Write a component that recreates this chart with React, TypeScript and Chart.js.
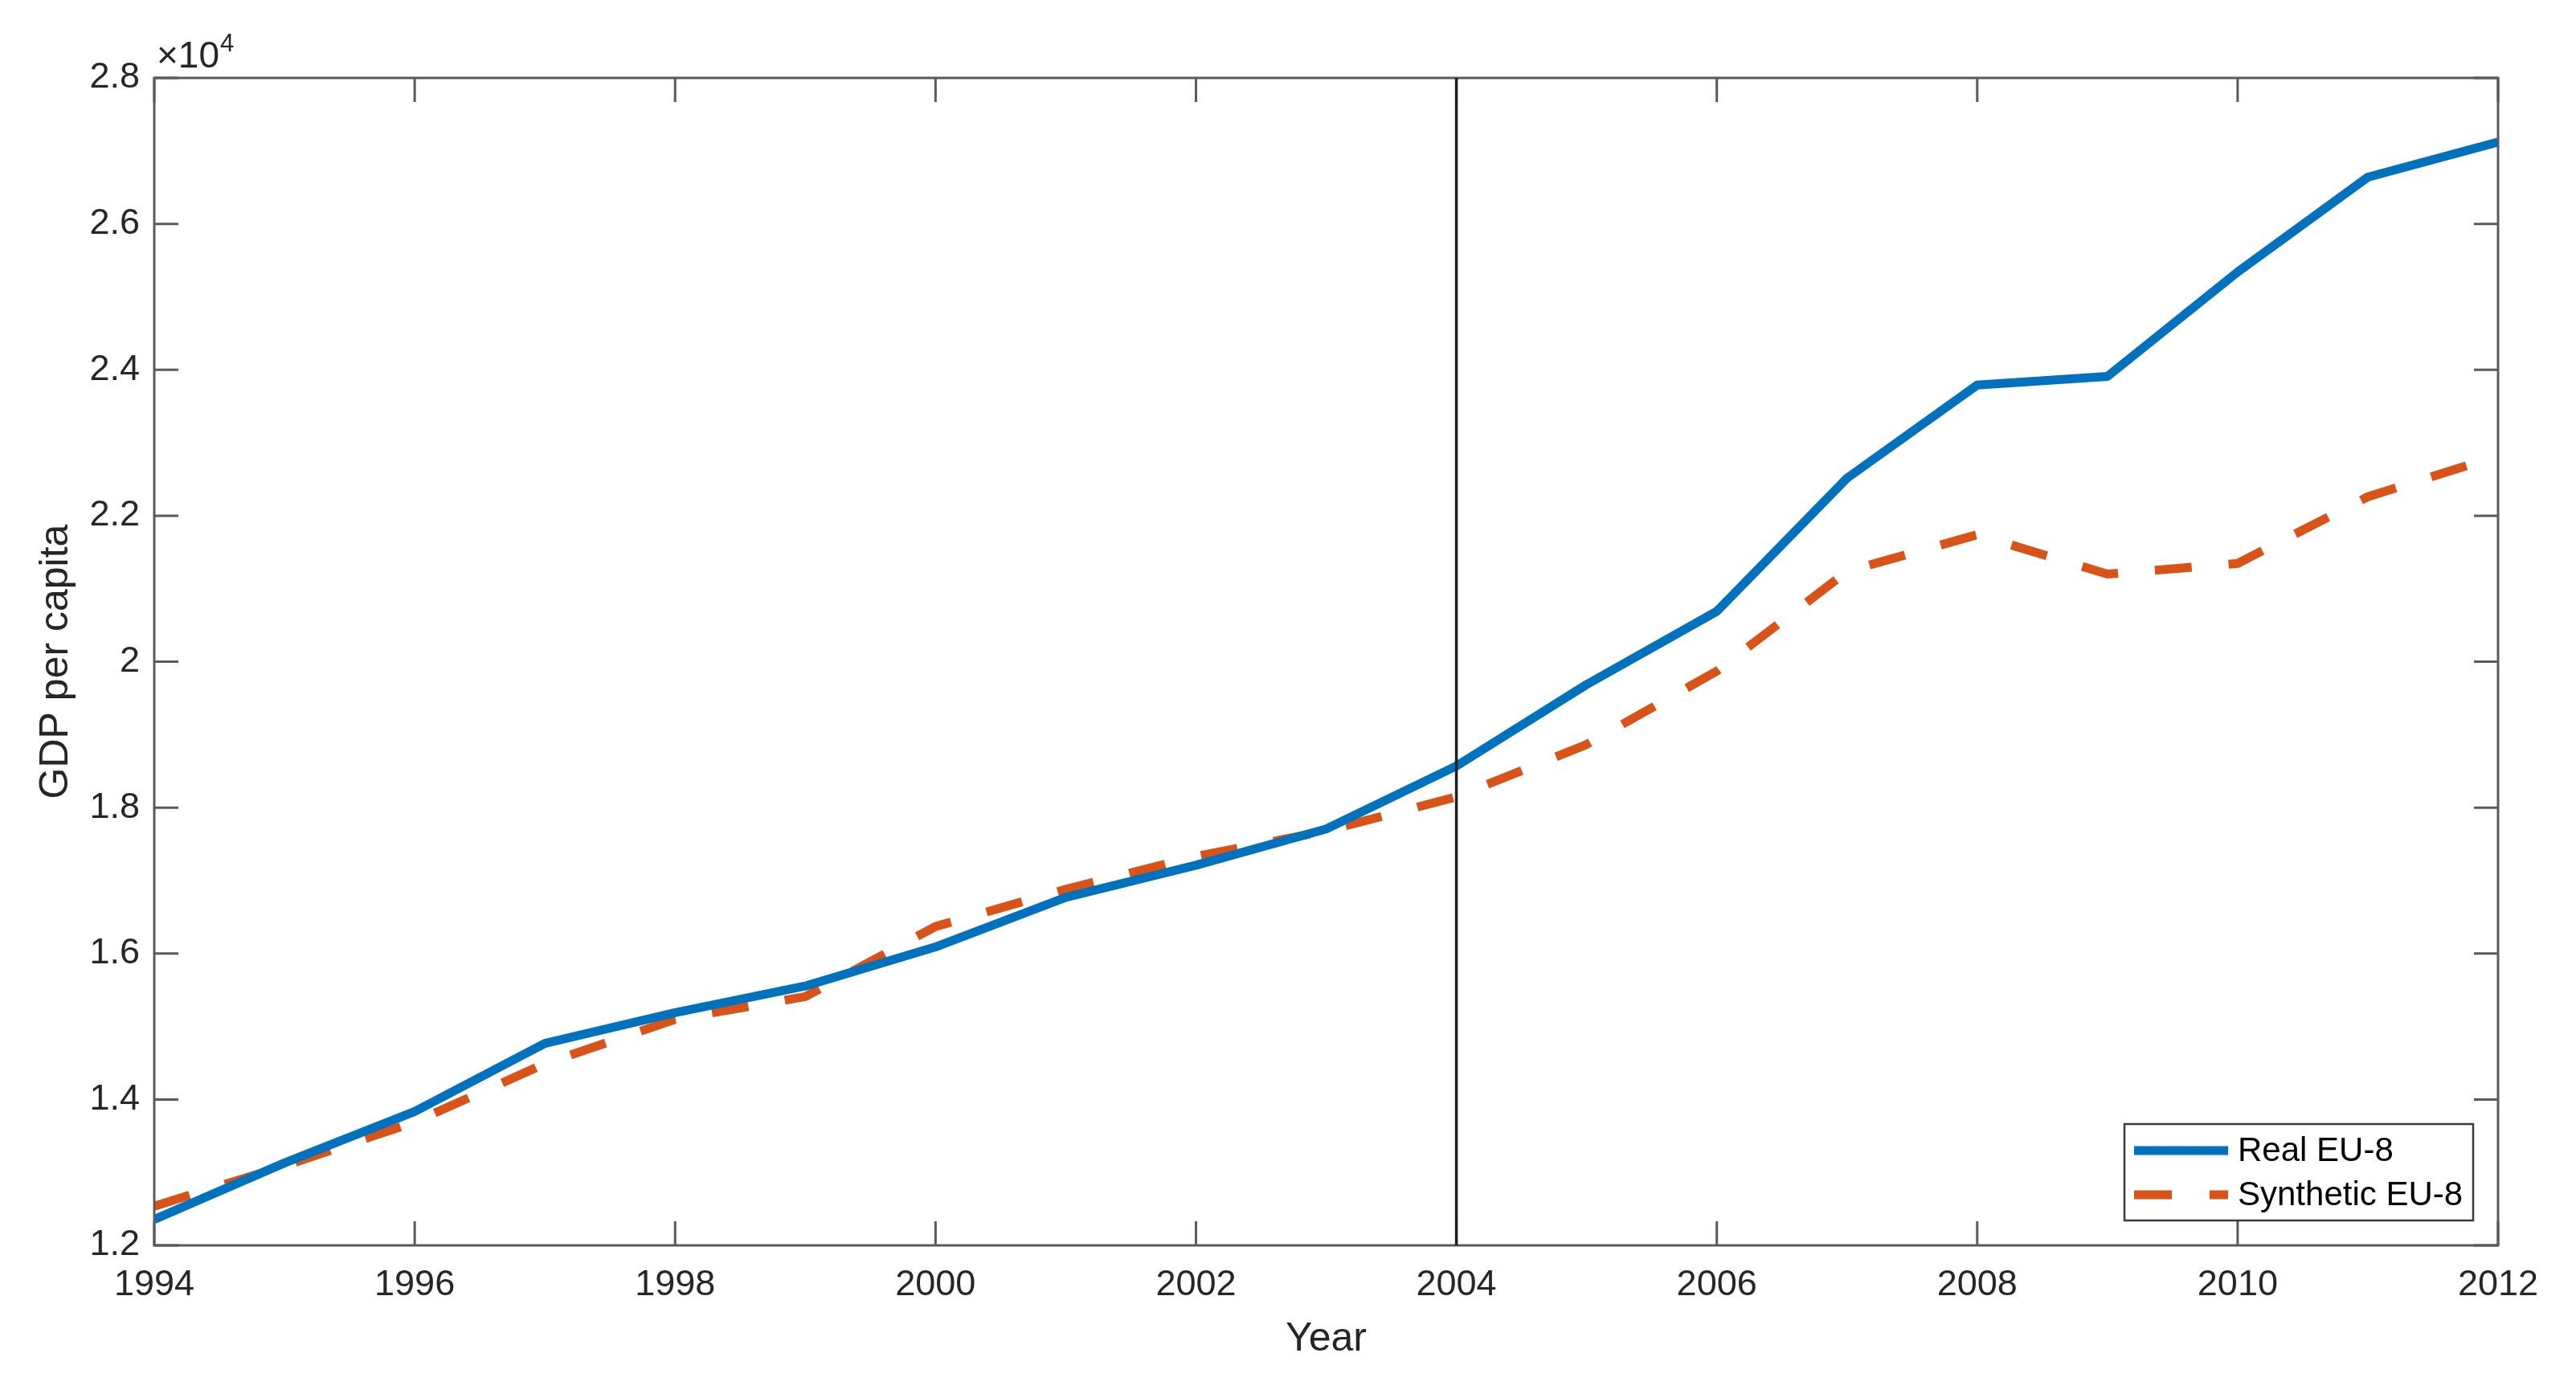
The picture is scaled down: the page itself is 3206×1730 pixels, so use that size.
import React, { useEffect, useRef } from 'react';
import { Chart, registerables } from 'chart.js';

Chart.register(...registerables);

// ---- data (GDP per capita) ----
const years = [1994, 1995, 1996, 1997, 1998, 1999, 2000, 2001, 2002, 2003, 2004, 2005, 2006, 2007, 2008, 2009, 2010, 2011, 2012];
const realEU8 = [12355, 13130, 13835, 14768, 15190, 15555, 16090, 16770, 17210, 17706, 18570, 19686, 20690, 22515, 23790, 23910, 25340, 26640, 27120];
const syntheticEU8 = [12537, 13090, 13690, 14490, 15097, 15410, 16370, 16880, 17330, 17680, 18147, 18865, 19870, 21237, 21740, 21200, 21346, 22260, 22820];
const seriesLabels = ['Real EU-8', 'Synthetic EU-8'];
const seriesColors = ['#0072BD', '#D95319'];
const treatmentYear = 2004;
const xRange = [1994, 2012];
const xStep = 2;
const yRange = [12000, 28000];
const yStep = 2000;
const yScaleFactor = 10000;
const exponentBase = '×10';
const exponentPower = '4';
const xTitle = 'Year';
const yTitle = 'GDP per capita';

const FONT = '"Liberation Sans", Arial, Helvetica, sans-serif';
const TEXT = '#262626';
const AXIS = '#5a5a5a';

const matlabPlugin = {
  id: 'matlabAxes',
  afterDatasetsDraw(chart: any) {
    const { ctx, chartArea: a, scales } = chart;
    const xs = scales.x;
    const ys = scales.y;
    ctx.save();

    // inward ticks on all four sides
    const L = 30;
    ctx.strokeStyle = AXIS;
    ctx.lineWidth = 3;
    ctx.beginPath();
    xs.ticks.forEach((t: any) => {
      const p = xs.getPixelForValue(t.value);
      ctx.moveTo(p, a.bottom);
      ctx.lineTo(p, a.bottom - L);
      ctx.moveTo(p, a.top);
      ctx.lineTo(p, a.top + L);
    });
    ys.ticks.forEach((t: any) => {
      const p = ys.getPixelForValue(t.value);
      ctx.moveTo(a.left, p);
      ctx.lineTo(a.left + L, p);
      ctx.moveTo(a.right, p);
      ctx.lineTo(a.right - L, p);
    });
    ctx.stroke();

    // box
    ctx.strokeRect(a.left, a.top, a.right - a.left, a.bottom - a.top);

    // treatment line
    const tx = xs.getPixelForValue(treatmentYear);
    ctx.strokeStyle = '#1e1e1e';
    ctx.lineWidth = 3.5;
    ctx.beginPath();
    ctx.moveTo(tx, a.top);
    ctx.lineTo(tx, a.bottom);
    ctx.stroke();

    // exponent label
    ctx.fillStyle = TEXT;
    ctx.textBaseline = 'alphabetic';
    ctx.textAlign = 'left';
    ctx.font = `46px ${FONT}`;
    const ex = a.left + 3;
    const ey = a.top - 13;
    ctx.fillText(exponentBase, ex, ey);
    const w = ctx.measureText(exponentBase).width;
    ctx.font = `31px ${FONT}`;
    ctx.fillText(exponentPower, ex + w + 1, ey - 20);

    // legend
    const lx = 2644, ly = 1399, lw = 434, lh = 120;
    ctx.fillStyle = '#ffffff';
    ctx.fillRect(lx, ly, lw, lh);
    ctx.strokeStyle = '#3a3a3a';
    ctx.lineWidth = 2.5;
    ctx.strokeRect(lx, ly, lw, lh);
    const rows = [1432, 1487];
    chart.data.datasets.forEach((ds: any, i: number) => {
      const y = rows[i];
      ctx.strokeStyle = ds.borderColor;
      ctx.lineWidth = 11;
      ctx.lineCap = 'butt';
      ctx.setLineDash(ds.borderDash && ds.borderDash.length ? [47, 47] : []);
      ctx.beginPath();
      ctx.moveTo(2656, y);
      ctx.lineTo(2773, y);
      ctx.stroke();
      ctx.setLineDash([]);
      ctx.fillStyle = '#000000';
      ctx.font = `42px ${FONT}`;
      ctx.textBaseline = 'middle';
      ctx.textAlign = 'left';
      ctx.fillText(ds.label, 2785, y + 1);
    });

    ctx.restore();
  },
};

export default function App() {
  const ref = useRef<HTMLCanvasElement | null>(null);

  useEffect(() => {
    if (!ref.current) return;
    const chart = new Chart(ref.current, {
      type: 'line',
      data: {
        datasets: [
          {
            label: seriesLabels[0],
            data: years.map((x, i) => ({ x, y: realEU8[i] })),
            borderColor: seriesColors[0],
            backgroundColor: seriesColors[0],
            borderWidth: 11,
            pointRadius: 0,
            tension: 0,
            borderJoinStyle: 'round',
            fill: false,
          },
          {
            label: seriesLabels[1],
            data: years.map((x, i) => ({ x, y: syntheticEU8[i] })),
            borderColor: seriesColors[1],
            backgroundColor: seriesColors[1],
            borderWidth: 11,
            borderDash: [46, 46],
            borderDashOffset: 0,
            pointRadius: 0,
            tension: 0,
            borderJoinStyle: 'round',
            fill: false,
          },
        ],
      },
      options: {
        animation: false,
        responsive: false,
        devicePixelRatio: 1,
        layout: { padding: { left: 0, top: 97, right: 97, bottom: 0 } },
        plugins: {
          legend: { display: false },
          tooltip: { enabled: false },
        },
        scales: {
          x: {
            type: 'linear',
            min: xRange[0],
            max: xRange[1],
            grid: { display: false, drawTicks: false },
            border: { display: false },
            ticks: {
              stepSize: xStep,
              padding: 23,
              color: TEXT,
              font: { family: FONT, size: 45 },
              maxRotation: 0,
              autoSkip: false,
              callback: (v: any) => String(v),
            },
            title: {
              display: true,
              text: xTitle,
              color: TEXT,
              font: { family: FONT, size: 50 },
              padding: { top: 0, bottom: 33 },
            },
            afterFit: (s: any) => {
              s.height = 180;
            },
          },
          y: {
            type: 'linear',
            min: yRange[0],
            max: yRange[1],
            grid: { display: false, drawTicks: false },
            border: { display: false },
            ticks: {
              stepSize: yStep,
              padding: 18,
              color: TEXT,
              font: { family: FONT, size: 45 },
              callback: (v: any) => String(parseFloat((Number(v) / yScaleFactor).toFixed(2))),
            },
            title: {
              display: true,
              text: yTitle,
              color: TEXT,
              font: { family: FONT, size: 50 },
              padding: { top: 40, bottom: 0 },
            },
            afterFit: (s: any) => {
              s.width = 192;
            },
          },
        },
      } as any,
      plugins: [matlabPlugin],
    });
    return () => chart.destroy();
  }, []);

  return (
    <div style={{ position: 'absolute', left: 0, top: 0, width: 3206, height: 1730, background: '#ffffff' }}>
      <canvas ref={ref} width={3206} height={1730} style={{ display: 'block' }} />
    </div>
  );
}
